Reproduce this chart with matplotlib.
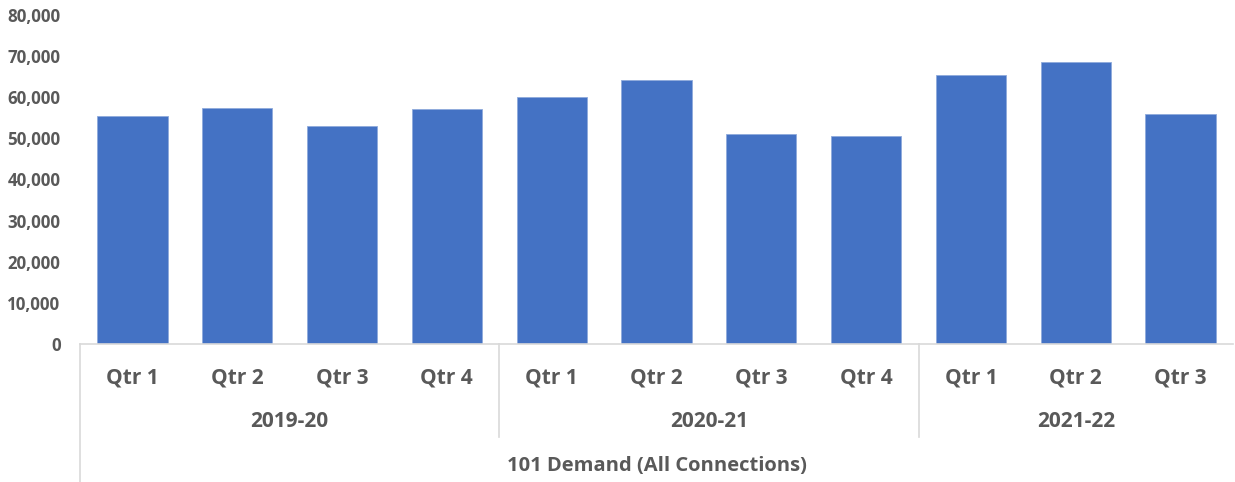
import numpy as np
import matplotlib.pyplot as plt
from matplotlib.transforms import blended_transform_factory

plt.rcParams['font.family'] = ['Open Sans', 'DejaVu Sans']

quarters = ['Qtr 1', 'Qtr 2', 'Qtr 3', 'Qtr 4',
            'Qtr 1', 'Qtr 2', 'Qtr 3', 'Qtr 4',
            'Qtr 1', 'Qtr 2', 'Qtr 3']
years = ['2019-20', '2020-21', '2021-22']
year_sizes = [4, 4, 3]
demand = [55500, 57300, 53000, 57100, 60000, 64100, 51100, 50500, 65500, 68600, 55900]
group_title = '101 Demand (All Connections)'

label_col = '#595959'
line_col = '#d9d9d9'

fig = plt.figure(figsize=(12.35, 4.82), dpi=100)
ax = fig.add_axes([80 / 1235, 138 / 482, 1153 / 1235, 329 / 482])

x = np.arange(len(demand))
ax.bar(x, demand, width=0.67, color='#4472C4', edgecolor='#8faadc', linewidth=0.6)

ax.set_xlim(-0.5, len(demand) - 0.5)
ax.set_ylim(0, 80000)
ax.set_yticks(np.arange(0, 80001, 10000))
ax.set_yticklabels([f'{v:,}' for v in range(0, 80001, 10000)])
ax.set_xticks(x)
ax.set_xticklabels(quarters)

ax.tick_params(axis='y', length=0, pad=14, labelsize=12.2, labelcolor=label_col)
ax.tick_params(axis='x', length=0, pad=17, labelsize=15, labelcolor=label_col)
for lab in ax.get_xticklabels() + ax.get_yticklabels():
    lab.set_fontweight('bold')

for s in ['top', 'right', 'left']:
    ax.spines[s].set_visible(False)
ax.spines['bottom'].set_color(line_col)
ax.spines['bottom'].set_linewidth(1.2)

trans = blended_transform_factory(ax.transData, ax.transAxes)

# group separators under the axis
ax.plot([-0.5, -0.5], [0, -0.42], transform=trans, color=line_col, lw=1.2, clip_on=False)
start = -0.5
for i, (yr, n) in enumerate(zip(years, year_sizes)):
    ax.text(start + n / 2, -0.235, yr, transform=trans, ha='center', va='center',
            fontsize=15, fontweight='bold', color=label_col)
    start += n
    if i < len(years) - 1:
        ax.plot([start, start], [0, -0.283], transform=trans, color=line_col, lw=1.2,
                clip_on=False)

ax.text(0.5, -0.372, group_title, transform=ax.transAxes, ha='center', va='center',
        fontsize=14.5, fontweight='bold', color=label_col)

fig.savefig('out.png', dpi=100)
